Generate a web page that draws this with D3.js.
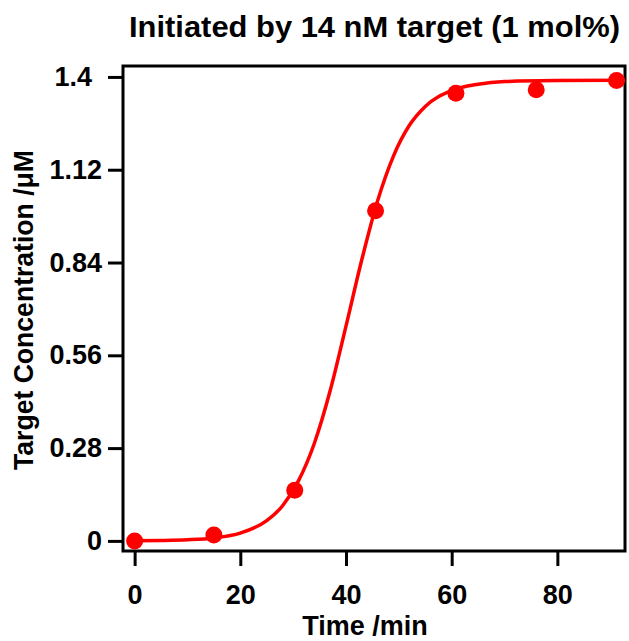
<!DOCTYPE html>
<html>
<head>
<meta charset="utf-8">
<script src="https://cdn.jsdelivr.net/npm/d3@7"></script>
<style>
  body { margin: 0; background: #fff; }
  svg text { font-family: "Liberation Sans", Arial, sans-serif; font-weight: bold; fill: #000; }
</style>
</head>
<body>
<svg id="chart" width="629" height="641"></svg>
<script>
// measured data points (time in min, concentration in uM)
const times = [0, 15, 30.3, 45.6, 60.8, 76, 91.2];
const conc = [0, 0.018, 0.153, 0.996, 1.351, 1.361, 1.389];

// fitted sigmoid curve
const fitTimes = [0, 5, 10, 15, 20, 25, 28, 31, 34, 37, 40, 43, 46, 49, 52, 55, 60, 65, 70, 80, 92.8];
const fitConc = [0.0005, 0.0013, 0.0034, 0.0089, 0.0236, 0.061, 0.106, 0.181, 0.294, 0.453, 0.648, 0.849, 1.027, 1.162, 1.254, 1.311, 1.359, 1.378, 1.386, 1.389, 1.39];

const xTicks = [0, 20, 40, 60, 80];
const yTicks = [0, 0.28, 0.56, 0.84, 1.12, 1.4];

const svg = d3.select('#chart');

const x = d3.scaleLinear().domain([-2.2, 92.8]).range([123, 625]);
const y = d3.scaleLinear().domain([-0.0305, 1.433]).range([551, 66]);

// axes
const xAxis = svg.append('g')
  .attr('transform', 'translate(0,551)')
  .call(d3.axisBottom(x).tickValues(xTicks).tickSize(15).tickPadding(19).tickFormat(d3.format('d')));
const yAxis = svg.append('g')
  .attr('transform', 'translate(123,0)')
  .call(d3.axisLeft(y).tickValues(yTicks).tickSize(15).tickPadding(6).tickFormat(d => String(d)));

[xAxis, yAxis].forEach(g => {
  g.select('.domain').remove();
  g.selectAll('.tick line').attr('stroke', '#000').attr('stroke-width', 3);
  g.selectAll('.tick text').style('font-size', '27px');
});
// the top label sits a little further out in the original
yAxis.selectAll('.tick text').filter(d => d === 1.4).attr('dx', -10);

// frame
svg.append('rect')
  .attr('x', x(-2.2)).attr('y', y(1.433))
  .attr('width', x(92.8) - x(-2.2)).attr('height', y(-0.0305) - y(1.433))
  .attr('fill', 'none').attr('stroke', '#000').attr('stroke-width', 3);

// fit curve
const line = d3.line()
  .x((d, i) => x(fitTimes[i]))
  .y(d => y(d))
  .curve(d3.curveMonotoneX);
svg.append('path')
  .attr('d', line(fitConc))
  .attr('fill', 'none')
  .attr('stroke', '#ff0000')
  .attr('stroke-width', 3.5);

// points
svg.selectAll('circle.pt')
  .data(conc)
  .enter()
  .append('circle')
    .attr('class', 'pt')
    .attr('cx', (d, i) => x(times[i]))
    .attr('cy', d => y(d))
    .attr('r', 8.5)
    .attr('fill', '#ff0000');

// titles
svg.append('text')
  .attr('x', 374.5).attr('y', 37)
  .attr('text-anchor', 'middle')
  .attr('textLength', 491)
  .attr('lengthAdjust', 'spacingAndGlyphs')
  .style('font-size', '29px')
  .text('Initiated by 14 nM target (1 mol%)');

svg.append('text')
  .attr('x', 365).attr('y', 635)
  .attr('text-anchor', 'middle')
  .style('font-size', '27px')
  .text('Time /min');

svg.append('text')
  .attr('transform', 'translate(33,310) rotate(-90)')
  .attr('text-anchor', 'middle')
  .attr('textLength', 320)
  .attr('lengthAdjust', 'spacingAndGlyphs')
  .style('font-size', '27px')
  .text('Target Concentration /μM');
</script>
</body>
</html>
